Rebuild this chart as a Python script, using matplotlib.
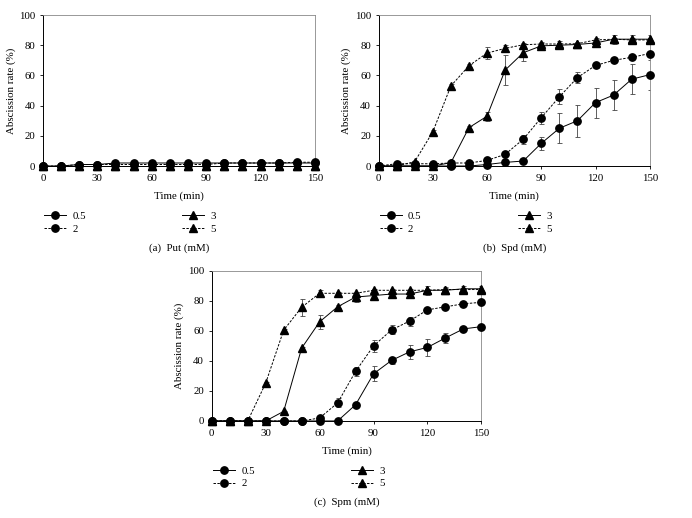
import matplotlib
matplotlib.use('Agg')
import matplotlib.pyplot as plt

plt.rcParams['font.family'] = ['Liberation Serif', 'DejaVu Serif']

time = [0, 10, 20, 30, 40, 50, 60, 70, 80, 90, 100, 110, 120, 130, 140, 150]
labels = ['0.5', '2', '3', '5']
captions = ['(a)  Put (mM)', '(b)  Spd (mM)', '(c)  Spm (mM)']

# (a) Put
put_05 = [0, 0, 1, 1, 2, 2, 2, 2, 2, 2, 2, 2, 2, 2, 2, 2]
put_2 = [0, 0, 1, 1, 1, 1, 1, 1, 1, 1, 2, 2, 2, 2, 2.5, 2.5]
put_3 = [0, 0, 0, 0, 0, 0, 0, 0, 0, 0, 0, 0, 0, 0, 0, 0]
put_5 = [0, 0, 0, 0, 0, 0, 0, 0, 0, 0, 0, 0, 0, 0, 0, 0]
put_05_err = [0] * 16
put_2_err = [0] * 16
put_3_err = [0] * 16
put_5_err = [0] * 16

# (b) Spd
spd_05 = [0, 0, 0, 0, 0, 0, 1, 2.4, 3.3, 15, 25, 30, 42, 47, 57.5, 60.5]
spd_2 = [0, 1.5, 1.5, 1.5, 2, 2, 3.7, 7.7, 17.7, 32, 45.8, 58.6, 66.6, 70, 72, 74.5]
spd_3 = [0, 0, 0, 0, 2.2, 25.4, 33, 63.5, 75, 79.6, 80, 80.5, 81.5, 84, 84, 84]
spd_5 = [0, 0, 2.9, 22.6, 53, 66.4, 74.8, 77.9, 80.3, 80.8, 80.8, 81, 83.5, 84, 83.5, 83.5]
spd_05_err = [0, 0, 0, 0, 0, 0, 0.5, 0.5, 0.5, 4.5, 10, 10.5, 10, 10, 10, 10]
spd_2_err = [0, 0, 0, 0, 0, 0, 0.5, 1, 3, 4, 5, 3.5, 1.5, 1, 1, 1]
spd_3_err = [0, 0, 0, 0, 0.5, 1, 3, 10, 5.5, 2.5, 2.5, 1, 2, 3, 3, 3]
spd_5_err = [0, 0, 0.5, 1, 1, 1, 4, 2, 1, 1, 1, 1, 1, 1, 1, 1]

# (c) Spm
spm_05 = [0, 0, 0, 0, 0, 0, 0, 0, 10.8, 31.4, 40.3, 46, 49, 55.3, 61.3, 62.8]
spm_2 = [0, 0, 0, 0, 0, 0, 2, 12, 33, 50, 60.6, 66.5, 74, 76, 78, 79]
spm_3 = [0, 0, 0, 0, 6.4, 48.5, 66, 76, 82.5, 83.5, 84.5, 84.5, 87, 87, 88, 88]
spm_5 = [0, 0, 0, 25.2, 60.4, 75.7, 85, 85, 85, 87, 87, 87, 87, 87.5, 87.5, 87.5]
spm_05_err = [0, 0, 0, 0, 0, 0, 0, 0, 0.5, 5, 2.5, 4.5, 5.5, 3.5, 1, 1]
spm_2_err = [0, 0, 0, 0, 0, 0, 0.5, 3, 3, 4, 3, 3, 1, 1, 1, 1]
spm_3_err = [0, 0, 0, 0, 0.5, 1, 4.5, 1, 3, 2, 2, 2, 3, 2, 2, 2]
spm_5_err = [0, 0, 0, 1, 1, 5.5, 2, 1, 1, 1, 1, 1, 1, 1, 1, 1]

panels = [
    ([put_05, put_2, put_3, put_5], [put_05_err, put_2_err, put_3_err, put_5_err]),
    ([spd_05, spd_2, spd_3, spd_5], [spd_05_err, spd_2_err, spd_3_err, spd_5_err]),
    ([spm_05, spm_2, spm_3, spm_5], [spm_05_err, spm_2_err, spm_3_err, spm_5_err]),
]

markers = ['o', 'o', '^', '^']
styles = ['-', (0, (2.5, 1.5)), '-', (0, (2.5, 1.5))]

fig = plt.figure(figsize=(6.92, 5.18), dpi=100)
rects = [
    [0.0621, 0.6795, 0.393, 0.2915],
    [0.547, 0.6795, 0.392, 0.2915],
    [0.306, 0.1873, 0.3897, 0.290],
]
fs = 7.8

for k, (series, errs) in enumerate(panels):
    ax = fig.add_axes(rects[k])
    handles = []
    for s, e, m, ls, lab in zip(series, errs, markers, styles, labels):
        ax.errorbar(time, s, yerr=e, fmt='none', ecolor='#444444',
                    elinewidth=0.6, capsize=1.8, capthick=0.6, zorder=2)
        h, = ax.plot(time, s, linestyle=ls, color='black', linewidth=0.7,
                     marker=m, markersize=5.3, label=lab, zorder=3, clip_on=False)
        handles.append(h)
    ax.set_xlim(0, 150)
    ax.set_ylim(0, 100)
    ax.set_xticks(range(0, 151, 30))
    ax.set_yticks(range(0, 101, 20))
    ax.tick_params(labelsize=fs, length=2.5, width=0.6, direction='out', pad=3)
    for side in ['left', 'bottom']:
        ax.spines[side].set_linewidth(0.7)
    for side in ['top', 'right']:
        ax.spines[side].set_linewidth(0.6)
        ax.spines[side].set_color('#888888')
    ax.set_xlabel('Time (min)', fontsize=fs, labelpad=6)
    ax.set_ylabel('Abscission rate (%)', fontsize=fs, labelpad=2.5)
    ax.legend(handles=handles, ncol=2, loc='upper left',
              bbox_to_anchor=(0.005, -0.3), frameon=False, fontsize=fs,
              handlelength=2.0, handletextpad=0.6, labelspacing=0.3,
              columnspacing=8.9, borderpad=0, borderaxespad=0)
    ax.text(0.5, -0.51, captions[k], transform=ax.transAxes, ha='center',
            va='top', fontsize=fs)

fig.savefig('out.png', dpi=100)
